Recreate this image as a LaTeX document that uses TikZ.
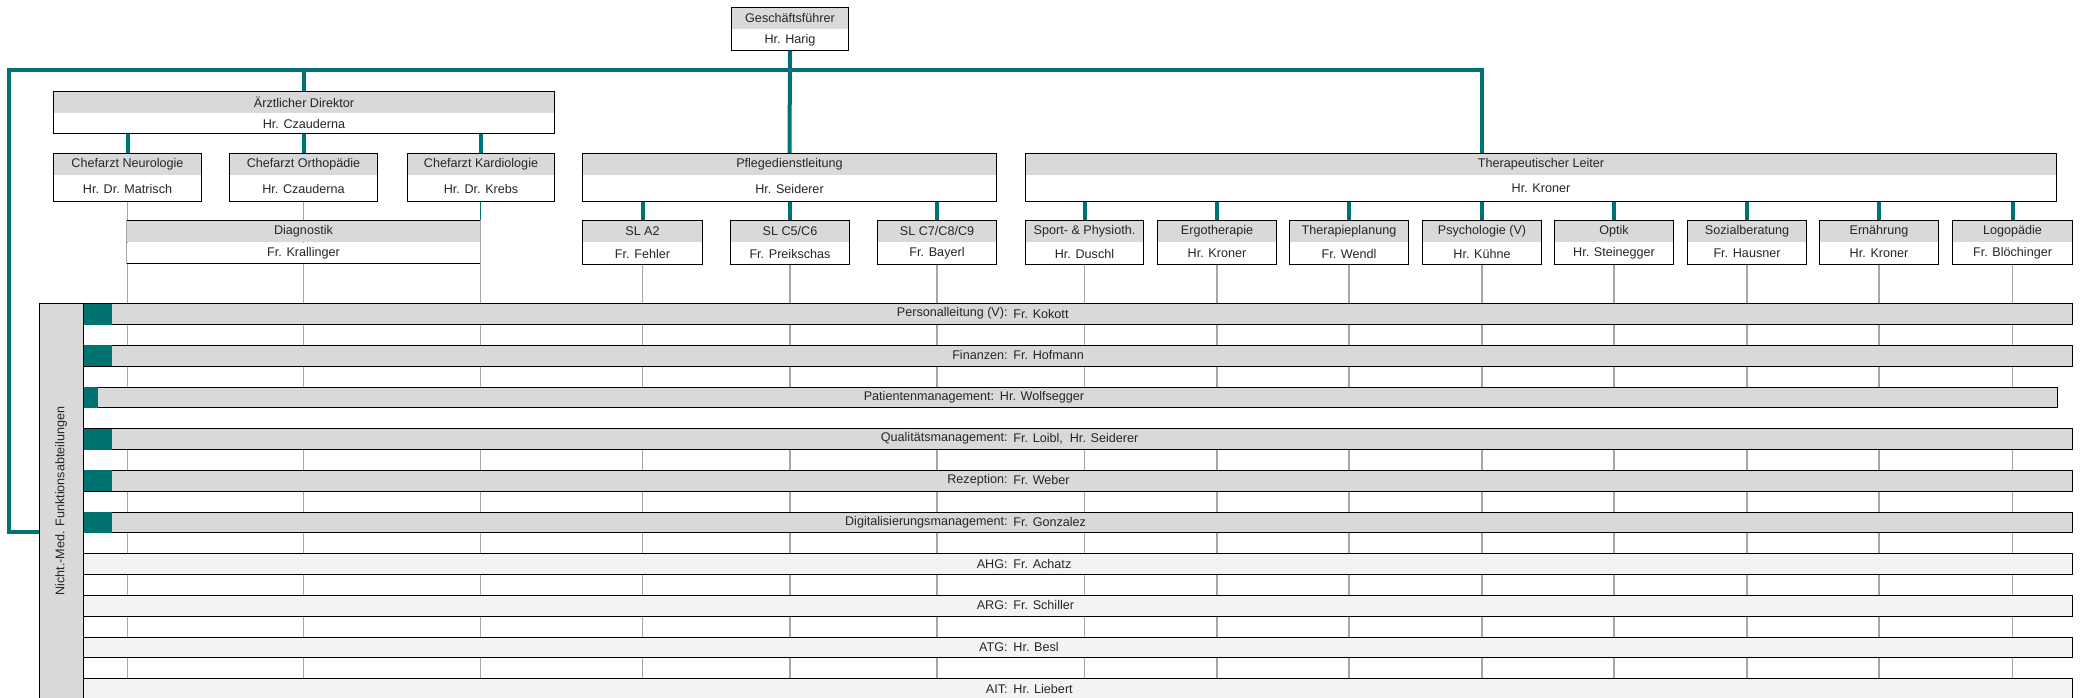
\documentclass[tikz,border=0pt]{standalone}
\usepackage{fontspec}
\setmainfont{Liberation Sans}
\usetikzlibrary{positioning}
\definecolor{orgteal}{RGB}{0,115,112}
\definecolor{headgray}{RGB}{217,217,217}
\definecolor{dotgray}{RGB}{243,243,243}
\definecolor{linegray}{RGB}{166,166,166}
\definecolor{textdark}{RGB}{38,38,38}
\newcommand{\orgfont}{\fontsize{6.3pt}{7.5pt}\selectfont}
\tikzstyle{orghead} = [anchor = north, fill = headgray, minimum height = 11pt, inner sep = 0pt, font = \orgfont, text = textdark]
\tikzstyle{orgname} = [fill = white, inner sep = 0pt, font = \orgfont, text = textdark]
\tikzstyle{boxline} = [draw = black, line width = 0.5pt]
\tikzstyle{bus} = [draw = orgteal, line width = 2pt]
\tikzstyle{link} = [draw = orgteal, line width = 2pt]
\tikzstyle{thinlink} = [draw = orgteal, line width = 0.6pt]
\tikzstyle{vline} = [draw = linegray, line width = 0.7pt]
\tikzstyle{grayrow} = [draw = black, line width = 0.5pt, fill = headgray, anchor = north west, minimum width = 994.5pt, minimum height = 10.42pt, inner sep = 0pt]
\tikzstyle{dotrow} = [grayrow, fill = dotgray]
\tikzstyle{blankrow} = [fill = white, anchor = north west, minimum width = 994.5pt, minimum height = 10.42pt, inner sep = 0pt]
\tikzstyle{tealtab} = [fill = orgteal, anchor = north west, minimum width = 14.5pt, minimum height = 10.42pt, inner sep = 0pt]
\tikzstyle{rowtitle} = [anchor = east, inner sep = 0pt, font = \orgfont, text = textdark]
\tikzstyle{rowname} = [anchor = west, inner sep = 0pt, font = \orgfont, text = textdark]
\tikzstyle{sidebox} = [draw = black, line width = 0.5pt, fill = headgray, anchor = north west, minimum width = 22pt, minimum height = 220pt, inner sep = 0pt]
\tikzstyle{sidetext} = [rotate = 90, inner sep = 0pt, font = \orgfont, text = textdark]
% box with grey title part and white name part
\newcommand{\orgbox}[7]{%
  \node [orghead, minimum width = #4*0.5pt] (#1h) at (#2, #3) {#6};
  \node [orgname, minimum width = #4*0.5pt, minimum height = #5*0.5pt, below = 0pt of #1h] (#1) {#7};
  \path [boxline] (#1h.north west) rectangle (#1.south east);
}
% row of the function departments
\newcommand{\funcrow}[5]{%
  \node [#3] (#1) at (83, #2) {};
  \node [rowtitle] (#1t) at (1008, #2 + 10.4) {#4};
  \node [rowname] (#1n) at (1013, #2 + 10.4) {#5};
}
\begin{document}
\begin{tikzpicture}[x = 0.5pt, y = -0.5pt]
			\useasboundingbox (0, 0) rectangle (2080, 697);
			\fill [white] (0, 0) rectangle (2080, 697);
			% Place nodes
			\orgbox{gf}{790}{7}{116}{20}{Geschäftsführer}{Hr. Harig}
			\orgbox{ad}{304}{91}{500}{19}{Ärztlicher Direktor}{Hr. Czauderna}
			\orgbox{neuro}{127.5}{153}{147}{25}{Chefarzt Neurologie}{Hr. Dr. Matrisch}
			\orgbox{ortho}{303.5}{153}{147}{25}{Chefarzt Orthopädie}{Hr. Czauderna}
			\orgbox{kardio}{481}{153}{146}{25}{Chefarzt Kardiologie}{Hr. Dr. Krebs}
			\orgbox{pdl}{789.5}{153}{413}{25}{Pflegedienstleitung}{Hr. Seiderer}
			\orgbox{tl}{1541}{153}{1030}{25}{Therapeutischer Leiter}{Hr. Kroner}
			\orgbox{sla}{642.5}{220}{119}{21}{SL A2}{Fr. Fehler}
			\orgbox{slb}{790}{220}{118}{21}{SL C5/C6}{Fr. Preikschas}
			\orgbox{slc}{937}{220}{118}{21}{SL C7/C8/C9}{Fr. Bayerl}
			\orgbox{sport}{1084.5}{220}{118}{21}{Sport- \& Physioth.}{Hr. Duschl}
			\orgbox{ergo}{1217}{220}{118}{21}{Ergotherapie}{Hr. Kroner}
			\orgbox{tplan}{1349}{220}{118}{21}{Therapieplanung}{Fr. Wendl}
			\orgbox{psych}{1482}{220}{118}{21}{Psychologie (V)}{Hr. Kühne}
			\orgbox{optik}{1614}{220}{118}{21}{Optik}{Hr. Steinegger}
			\orgbox{sozial}{1747}{220}{118}{21}{Sozialberatung}{Fr. Hausner}
			\orgbox{ernaehr}{1879}{220}{118}{21}{Ernährung}{Hr. Kroner}
			\orgbox{logo}{2012.5}{220}{119}{21}{Logopädie}{Fr. Blöchinger}
			% grey lines down through the rows
			\coordinate (bottom) at (0, 720);
			\foreach \b in {neuro, ortho, sla, slb, slc, sport, ergo, tplan, psych, optik, sozial, ernaehr, logo}
				\path [vline] (\b.south) -- (\b.south |- bottom);
			\node [orghead, minimum width = 353*0.5pt] (diagh) at (303.5, 220) {Diagnostik};
			\node [orgname, minimum width = 353*0.5pt, minimum height = 20*0.5pt, below = 0pt of diagh] (diag) {Fr. Krallinger};
			\path [boxline] (diagh.north west) -- (diagh.north east) (diag.south west) -- (diag.south east);
			\path [vline] (diagh.north west) -- (diag.south west);
			\path [vline] (diagh.north east) -- (diag.south east |- bottom);
			% function departments
			\node [blankrow] (gap) at (83, 407.5) {};
			\funcrow{perso}{303.3}{grayrow}{Personalleitung (V):}{Fr. Kokott}
			\funcrow{finanz}{345.0}{grayrow}{Finanzen:}{Fr. Hofmann}
			\node [grayrow, minimum width = 1975*0.5pt] (patman) at (82, 386.6) {};
			\node [rowtitle] (patmant) at (994.5, 397) {Patientenmanagement:};
			\node [rowname] (patmann) at (999.5, 397) {Hr. Wolfsegger};
			\funcrow{quali}{428.3}{grayrow}{Qualitätsmanagement:}{Fr. Loibl,\ \ Hr. Seiderer}
			\funcrow{rezep}{470.0}{grayrow}{Rezeption:}{Fr. Weber}
			\funcrow{digi}{511.6}{grayrow}{Digitalisierungsmanagement:}{Fr. Gonzalez}
			\funcrow{ahg}{553.3}{dotrow}{AHG:}{Fr. Achatz}
			\funcrow{arg}{594.9}{dotrow}{ARG:}{Fr. Schiller}
			\funcrow{atg}{636.6}{dotrow}{ATG:}{Hr. Besl}
			\funcrow{ait}{678.3}{dotrow}{AIT:}{Hr. Liebert}
			\node [tealtab] (persotab) at (perso.north west) {};
			\node [tealtab] (finanztab) at (finanz.north west) {};
			\node [tealtab, minimum width = 16*0.5pt] (patmantab) at (patman.north west) {};
			\node [tealtab] (qualitab) at (quali.north west) {};
			\node [tealtab] (rezeptab) at (rezep.north west) {};
			\node [tealtab] (digitab) at (digi.north west) {};
			\node [sidebox] (nmf) at (39, 303.3) {};
			\node [sidetext] (nmftext) at (61, 501) {Nicht.-Med. Funktionsabteilungen};
			% Draw edges
			\coordinate (buswest) at (9, 70);
			\coordinate (bussouth) at (9, 532);
			\path [bus] (tlh.north -| psychh.north) |- (buswest) -- (bussouth) -- (bussouth -| nmf.west);
			\path [link] (gf.south) -- (pdlh.north);
			\path [link] (adh.north) -- (adh.north |- buswest);
			\path [link] (ad.south -| neuroh.north) -- (neuroh.north);
			\path [link] (ad.south -| orthoh.north) -- (orthoh.north);
			\path [link] (ad.south -| kardioh.north) -- (kardioh.north);
			\path [thinlink] (diagh.north east |- kardio.south) -- (diagh.north east);
			\path [link] (pdl.south -| slah.north) -- (slah.north);
			\path [link] (pdl.south -| slbh.north) -- (slbh.north);
			\path [link] (pdl.south -| slch.north) -- (slch.north);
			\path [link] (tl.south -| sporth.north) -- (sporth.north);
			\path [link] (tl.south -| ergoh.north) -- (ergoh.north);
			\path [link] (tl.south -| tplanh.north) -- (tplanh.north);
			\path [link] (tl.south -| psychh.north) -- (psychh.north);
			\path [link] (tl.south -| optikh.north) -- (optikh.north);
			\path [link] (tl.south -| sozialh.north) -- (sozialh.north);
			\path [link] (tl.south -| ernaehrh.north) -- (ernaehrh.north);
			\path [link] (tl.south -| logoh.north) -- (logoh.north);
		\end{tikzpicture}
\end{document}
